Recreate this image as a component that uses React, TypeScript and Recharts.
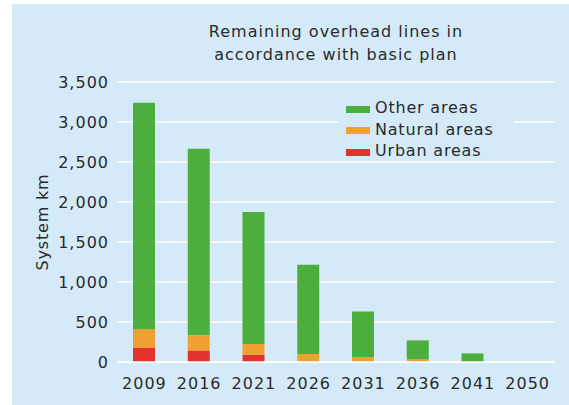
import React from 'react';
import { BarChart, Bar, XAxis, YAxis, CartesianGrid } from 'recharts';

const years = ['2009', '2016', '2021', '2026', '2031', '2036', '2041', '2050'];
const urbanAreas = [175, 145, 90, 0, 0, 0, 0, 0];
const naturalAreas = [235, 188, 135, 100, 64, 32, 0, 0];
const otherAreas = [2830, 2334, 1650, 1117, 566, 238, 108, 0];
const yTicks = [0, 500, 1000, 1500, 2000, 2500, 3000, 3500];
const titleLines = ['Remaining overhead lines in', 'accordance with basic plan'];

const seriesInfo = [
  { key: 'other', name: 'Other areas', color: '#4caf3d' },
  { key: 'natural', name: 'Natural areas', color: '#f0a032' },
  { key: 'urban', name: 'Urban areas', color: '#e1322d' },
];

const data = years.map((y, i) => ({
  year: y,
  urban: urbanAreas[i],
  natural: naturalAreas[i],
  other: otherAreas[i],
}));

const PANEL = '#d5eaf8';
const TEXT = '#2a2a2a';
const FONT = '"DejaVu Sans", Verdana, sans-serif';

const fmt = (v: number) => v.toLocaleString('en-US');

export default function App() {
  return (
    <div style={{ position: 'absolute', left: 0, top: 0, width: 569, height: 405, background: '#ffffff', overflow: 'hidden' }}>
      <div style={{ position: 'absolute', left: 12, top: 4, width: 557, height: 401, background: PANEL }} />
      <div
        style={{
          position: 'absolute',
          left: 136,
          width: 400,
          top: 20,
          textAlign: 'center',
          fontFamily: FONT,
          fontSize: 16,
          letterSpacing: 1,
          lineHeight: '23px',
          color: TEXT,
        }}
      >
        {titleLines.map((l) => (
          <div key={l}>{l}</div>
        ))}
      </div>
      <div style={{ position: 'absolute', left: 0, top: 0 }}>
        <BarChart
          width={569}
          height={405}
          data={data}
          margin={{ top: 82, right: 14, bottom: 13, left: 57 }}
          barSize={22}
        >
          <CartesianGrid vertical={false} stroke="#ffffff" strokeWidth={1.5} />
          <XAxis
            dataKey="year"
            axisLine={{ stroke: '#ffffff', strokeWidth: 1.5 }}
            tickLine={false}
            tickMargin={10}
            height={30}
            tick={{ fill: TEXT, fontSize: 16, fontFamily: FONT, letterSpacing: 1 }}
            interval={0}
          />
          <YAxis
            width={60}
            domain={[0, 3500]}
            ticks={yTicks}
            tickFormatter={fmt}
            axisLine={false}
            tickLine={false}
            tick={{ fill: TEXT, fontSize: 16, fontFamily: FONT, letterSpacing: 1 }}
            label={{
              content: () => (
                <text
                  x={42}
                  y={222}
                  transform="rotate(-90 42 222)"
                  textAnchor="middle"
                  dominantBaseline="central"
                  fill={TEXT}
                  fontSize={16}
                  fontFamily={FONT}
                  letterSpacing={0.8}
                >
                  System km
                </text>
              ),
            }}
          />
          <Bar dataKey="urban" name="Urban areas" stackId="a" fill="#e1322d" isAnimationActive={false} />
          <Bar dataKey="natural" name="Natural areas" stackId="a" fill="#f0a032" isAnimationActive={false} />
          <Bar dataKey="other" name="Other areas" stackId="a" fill="#4caf3d" isAnimationActive={false} />
        </BarChart>
      </div>
      <div
        style={{
          position: 'absolute',
          left: 338,
          top: 96,
          width: 176,
          height: 64,
          background: PANEL,
          paddingLeft: 8,
          paddingTop: 1,
          boxSizing: 'border-box',
          fontFamily: FONT,
          fontSize: 16,
          letterSpacing: 0.8,
          color: TEXT,
        }}
      >
        {seriesInfo.map((s) => (
          <div key={s.key} style={{ display: 'flex', alignItems: 'center', height: 21.5 }}>
            <span style={{ display: 'inline-block', width: 24, height: 7, background: s.color, marginRight: 5, marginTop: 3 }} />
            <span>{s.name}</span>
          </div>
        ))}
      </div>
    </div>
  );
}
